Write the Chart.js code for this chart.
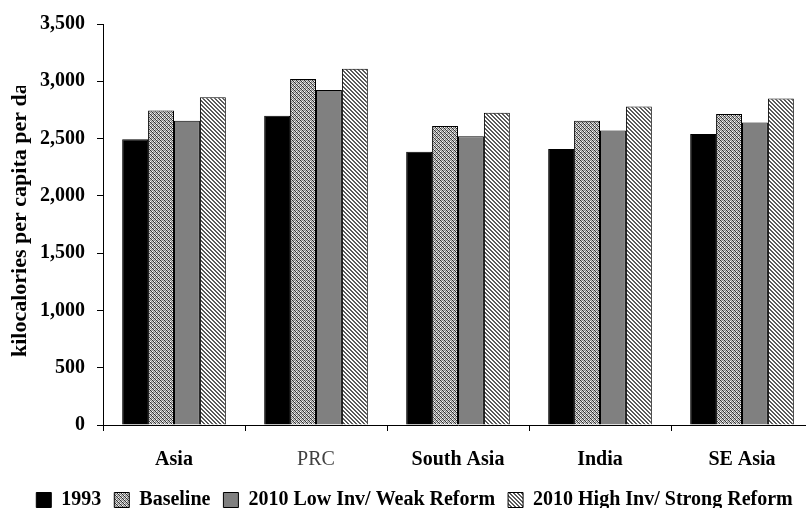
<!DOCTYPE html>
<html>
<head>
<meta charset="utf-8">
<script src="https://cdn.jsdelivr.net/npm/chart.js@4"></script>
<style>
  html, body { margin: 0; padding: 0; background: #fff; overflow: hidden; }
  #wrap { width: 815px; height: 508px; position: relative; }
</style>
</head>
<body>
<div id="wrap"><canvas id="kcalChart"></canvas></div>
<script>
var regions = ['Asia', 'PRC', 'South Asia', 'India', 'SE Asia'];
var seriesNames = ['1993', 'Baseline', '2010 Low Inv/ Weak Reform', '2010 High Inv/ Strong Reform'];
var kcal1993 = [2495, 2700, 2385, 2410, 2540];
var kcalBaseline = [2745, 3020, 2610, 2655, 2715];
var kcalLowInv = [2655, 2925, 2520, 2570, 2640];
var kcalHighInv = [2860, 3110, 2725, 2780, 2850];
var yTicks = [0, 500, 1000, 1500, 2000, 2500, 3000, 3500];
var axisTitle = 'kilocalories per capita per day';

var serif = '"Liberation Serif", "Times New Roman", serif';

// small pixel tiles for the hatched fills
function makePattern(size, pick) {
  var c = document.createElement('canvas');
  c.width = size;
  c.height = size;
  var g = c.getContext('2d');
  for (var y = 0; y < size; y++) {
    for (var x = 0; x < size; x++) {
      g.fillStyle = pick(x, y);
      g.fillRect(x, y, 1, 1);
    }
  }
  return g.createPattern(c, 'repeat');
}

var stipple = makePattern(4, function (x, y) {
  var k = (x - y + 8) % 4;
  if (k === 1 && (y % 2) === 0) return '#bbb';
  return ['#333', '#fff', '#888', '#ccc'][k];
});
var stripes = makePattern(4, function (x, y) {
  return ((x - y + 8) % 4) < 2 ? '#5a5a5a' : '#fff';
});

var yTitlePlugin = {
  id: 'yTitle',
  afterDraw: function (chart) {
    var ctx = chart.ctx;
    ctx.save();
    ctx.beginPath();
    ctx.rect(0, 86, 60, chart.chartArea.bottom);
    ctx.clip();
    ctx.translate(20, 357);
    ctx.rotate(-Math.PI / 2);
    ctx.font = 'bold 22px ' + serif;
    ctx.fillStyle = '#000';
    ctx.textAlign = 'left';
    ctx.textBaseline = 'middle';
    ctx.fillText(axisTitle, 0, 0);
    ctx.restore();
  }
};

var ctx = document.getElementById('kcalChart').getContext('2d');
var kcalChart = new Chart(ctx, {
  type: 'bar',
  plugins: [yTitlePlugin],
  data: {
    labels: regions,
    datasets: [
      { label: seriesNames[0], data: kcal1993, backgroundColor: '#000', borderColor: '#000', borderWidth: 1 },
      { label: seriesNames[1], data: kcalBaseline, backgroundColor: stipple, borderColor: '#000', borderWidth: 1 },
      { label: seriesNames[2], data: kcalLowInv, backgroundColor: '#808080', borderColor: '#000', borderWidth: 1 },
      { label: seriesNames[3], data: kcalHighInv, backgroundColor: stripes, borderColor: '#000', borderWidth: 1 }
    ]
  },
  options: {
    responsive: true,
    maintainAspectRatio: false,
    animation: false,
    locale: 'en-US',
    layout: {
      padding: { top: 22, left: 16, right: 2, bottom: -12 }
    },
    datasets: {
      bar: { categoryPercentage: 0.73, barPercentage: 1 }
    },
    plugins: {
      tooltip: { enabled: false },
      legend: {
        position: 'bottom',
        labels: {
          boxWidth: 15,
          boxHeight: 15,
          padding: 13,
          color: '#000',
          font: { family: serif, size: 20, weight: 'bold' }
        }
      }
    },
    scales: {
      x: {
        grid: { drawOnChartArea: false, tickLength: 6, color: '#000', offset: true },
        border: { color: '#000', width: 1 },
        ticks: {
          padding: 17,
          color: function (c) { return c.index === 1 ? '#404040' : '#000'; },
          font: function (c) {
            return { family: serif, size: 20, weight: c.index === 1 ? 'normal' : 'bold' };
          }
        },
        afterFit: function (scale) { scale.height = 52; }
      },
      y: {
        min: 0,
        max: 3500,
        grid: { drawOnChartArea: false, tickLength: 6, color: '#000' },
        border: { color: '#000', width: 1 },
        ticks: {
          padding: 12,
          color: '#000',
          font: { family: serif, size: 20, weight: 'bold' }
        },
        afterBuildTicks: function (scale) {
          scale.ticks = yTicks.map(function (v) { return { value: v }; });
        },
        afterFit: function (scale) { scale.width = 87; }
      }
    }
  }
});
</script>
</body>
</html>
